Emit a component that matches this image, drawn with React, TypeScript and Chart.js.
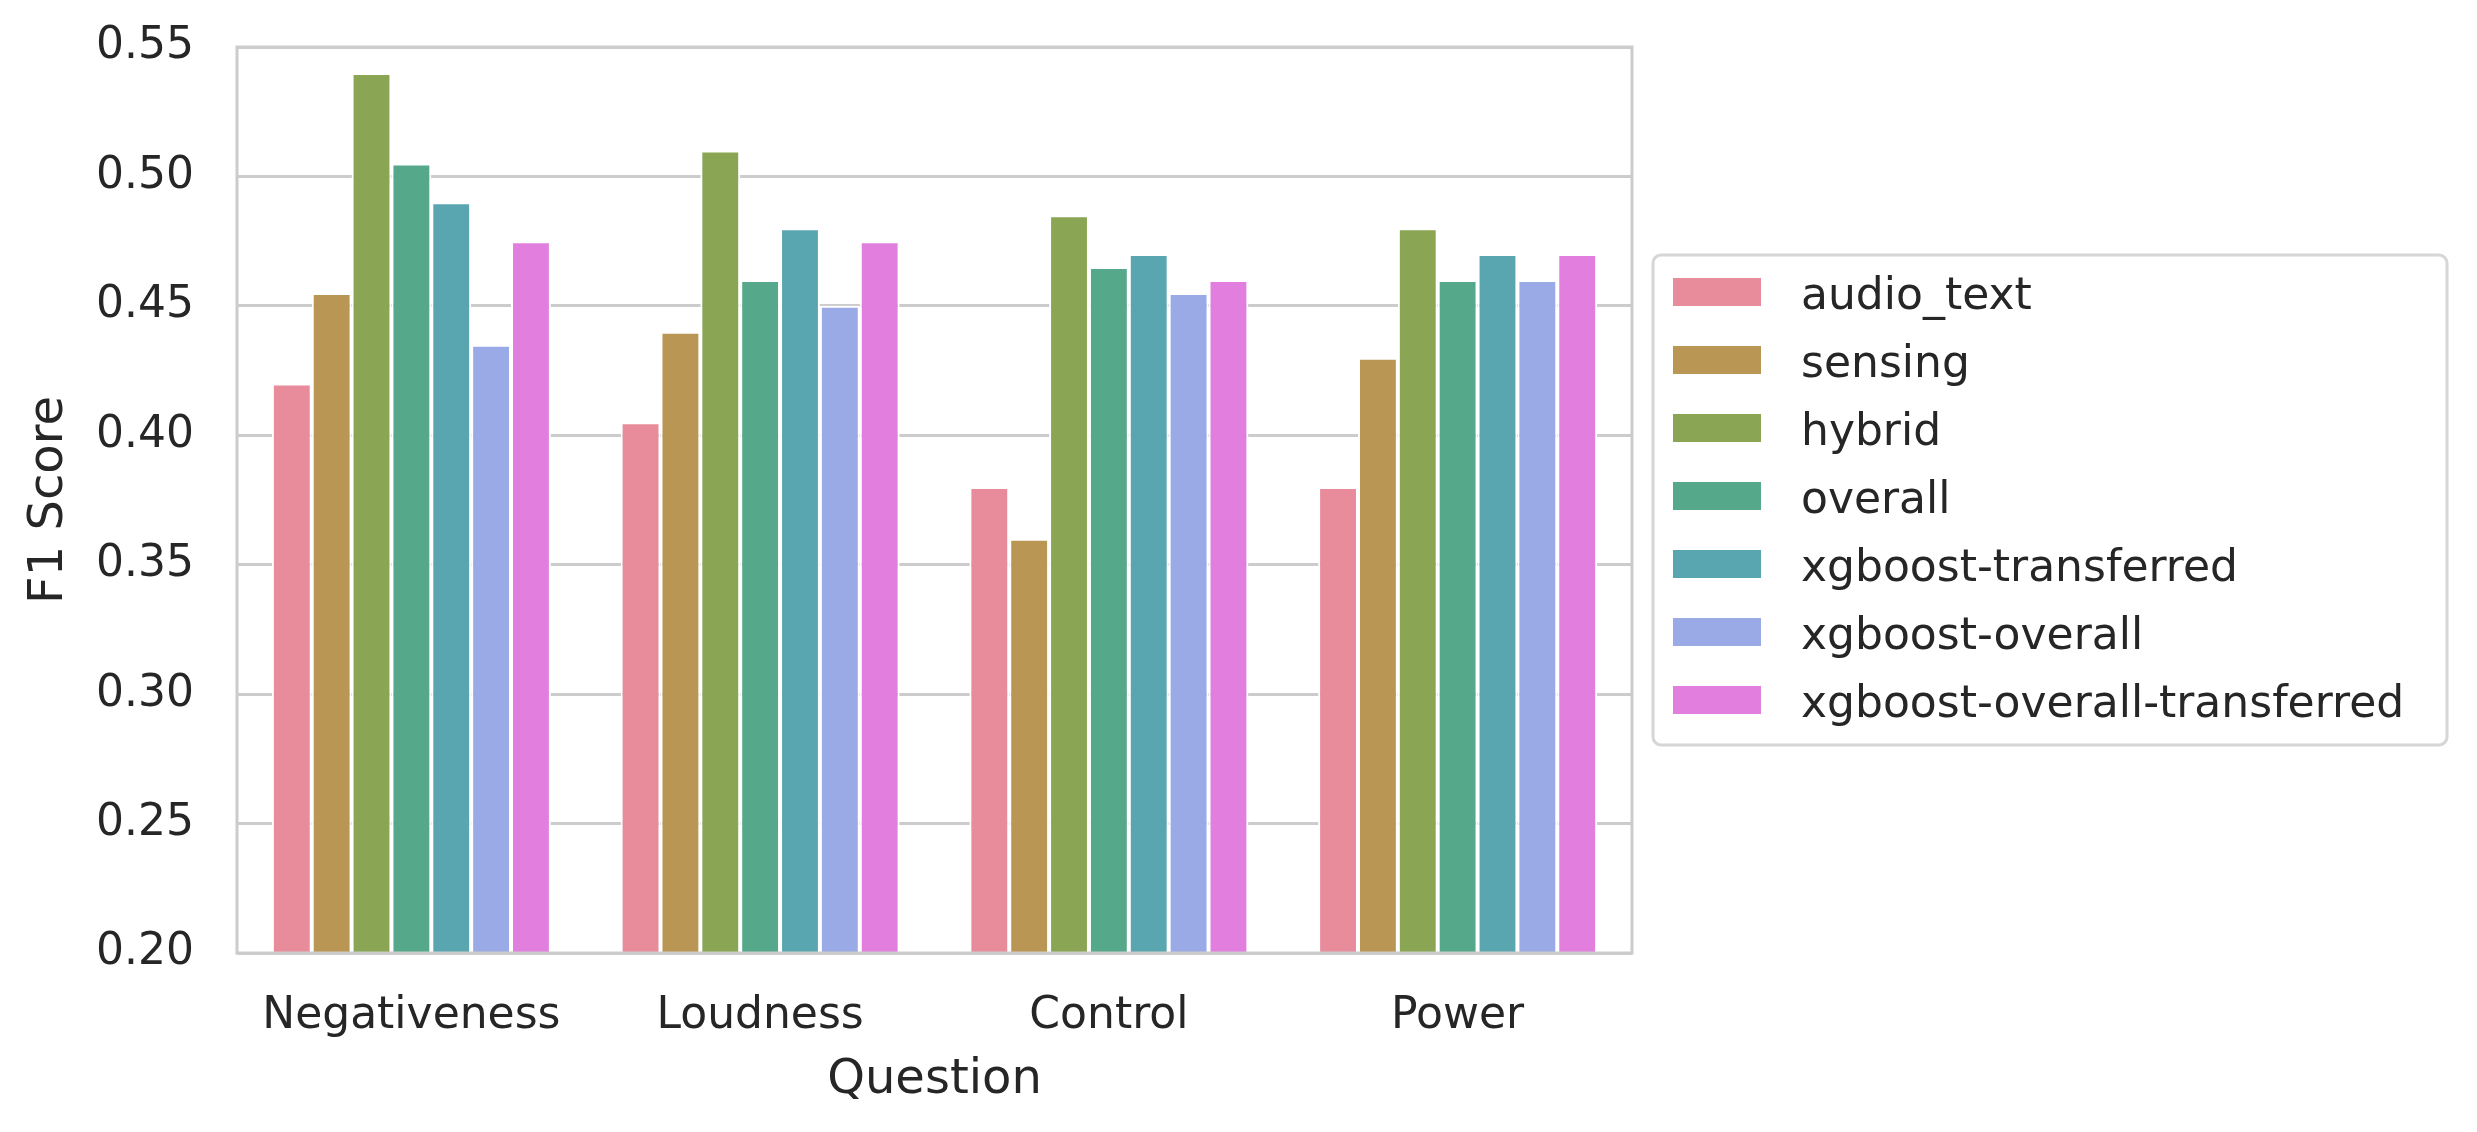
import { useEffect, useRef } from 'react';
import { Chart, registerables } from 'chart.js';

Chart.register(...registerables);

// categories and series
const questions = ['Negativeness', 'Loudness', 'Control', 'Power'];
const models = [
  'audio_text',
  'sensing',
  'hybrid',
  'overall',
  'xgboost-transferred',
  'xgboost-overall',
  'xgboost-overall-transferred',
];
const audioText = [0.42, 0.405, 0.38, 0.38];
const sensing = [0.455, 0.44, 0.36, 0.43];
const hybrid = [0.54, 0.51, 0.485, 0.48];
const overall = [0.505, 0.46, 0.465, 0.46];
const xgbTransferred = [0.49, 0.48, 0.47, 0.47];
const xgbOverall = [0.435, 0.45, 0.455, 0.46];
const xgbOverallTransferred = [0.475, 0.475, 0.46, 0.47];
const yTicks = [0.2, 0.25, 0.3, 0.35, 0.4, 0.45, 0.5, 0.55];

const seriesValues = [audioText, sensing, hybrid, overall, xgbTransferred, xgbOverall, xgbOverallTransferred];
const colors = ['#e88b9b', '#b99653', '#8aa554', '#56a88b', '#5aa6b0', '#9aaae6', '#e27fde'];

const TEXT = '#262626';
const GRID = '#cccccc';
const FONT = "'DejaVu Sans', sans-serif";

// frame around the axes + boxed legend on the right (matplotlib style)
const framePlugin = {
  id: 'frameAndLegend',
  afterDatasetsDraw(chart: Chart) {
    const { ctx, chartArea: a } = chart;
    ctx.save();
    ctx.strokeStyle = GRID;
    ctx.lineWidth = 3;
    ctx.strokeRect(a.left, a.top, a.right - a.left, a.bottom - a.top);
    ctx.restore();
  },
  afterDraw(chart: Chart) {
    const { ctx, chartArea: a } = chart;
    const boxX = a.right + 21;
    const boxY = 255;
    const boxW = 794;
    const boxH = 490;
    ctx.save();
    ctx.fillStyle = '#ffffff';
    ctx.strokeStyle = '#d6d6d6';
    ctx.lineWidth = 3;
    ctx.beginPath();
    ctx.roundRect(boxX, boxY, boxW, boxH, 8);
    ctx.fill();
    ctx.stroke();

    ctx.font = `44px ${FONT}`;
    ctx.textAlign = 'left';
    ctx.textBaseline = 'alphabetic';
    chart.data.datasets.forEach((ds, i) => {
      const cy = 292 + i * 68;
      ctx.fillStyle = ds.backgroundColor as string;
      ctx.fillRect(boxX + 20, cy - 14, 88, 28);
      ctx.fillStyle = TEXT;
      ctx.fillText(ds.label ?? '', boxX + 148, cy + 17);
    });
    ctx.restore();
  },
};

export default function App() {
  const canvasRef = useRef<HTMLCanvasElement>(null);
  const chartRef = useRef<Chart | null>(null);

  useEffect(() => {
    if (!canvasRef.current) return;
    if (chartRef.current) chartRef.current.destroy();

    Chart.defaults.font.family = FONT;
    Chart.defaults.color = TEXT;

    chartRef.current = new Chart(canvasRef.current, {
      type: 'bar',
      data: {
        labels: questions,
        datasets: models.map((m, i) => ({
          label: m,
          data: seriesValues[i],
          backgroundColor: colors[i],
          borderColor: '#ffffff',
          borderWidth: 2,
          categoryPercentage: 0.8,
          barPercentage: 1.0,
        })),
      },
      options: {
        responsive: true,
        maintainAspectRatio: false,
        animation: false,
        devicePixelRatio: 1,
        layout: {
          padding: { left: 0, top: 47, right: 845, bottom: 0 },
        },
        plugins: {
          legend: { display: false },
          tooltip: { enabled: false },
        },
        scales: {
          x: {
            grid: { display: false, drawTicks: false },
            border: { display: false },
            ticks: {
              color: TEXT,
              padding: 37,
              font: { size: 44 },
            },
            title: {
              display: true,
              text: 'Question',
              color: TEXT,
              font: { size: 48 },
              padding: { top: 0, bottom: 23 },
            },
            afterFit: (scale) => {
              scale.height = 179;
            },
          },
          y: {
            min: 0.2,
            max: 0.55,
            afterBuildTicks: (scale) => {
              scale.ticks = yTicks.map((v) => ({ value: v }));
            },
            // invisible tick marks give the label gap without padding the chart top
            grid: { color: GRID, lineWidth: 3, drawTicks: true, tickLength: 43, tickColor: 'rgba(0,0,0,0)' },
            border: { display: false },
            ticks: {
              color: TEXT,
              padding: 0,
              font: { size: 44 },
              callback: (value) => Number(value).toFixed(2),
            },
            title: {
              display: true,
              text: 'F1 Score',
              color: TEXT,
              font: { size: 48 },
              padding: { top: 21, bottom: 0 },
            },
            afterFit: (scale) => {
              scale.width = 237;
            },
          },
        },
      },
      plugins: [framePlugin],
    });

    return () => {
      if (chartRef.current) {
        chartRef.current.destroy();
        chartRef.current = null;
      }
    };
  }, []);

  return (
    <div style={{ position: 'absolute', left: 0, top: 0, width: 2477, height: 1132, background: '#ffffff' }}>
      <canvas ref={canvasRef} />
    </div>
  );
}
